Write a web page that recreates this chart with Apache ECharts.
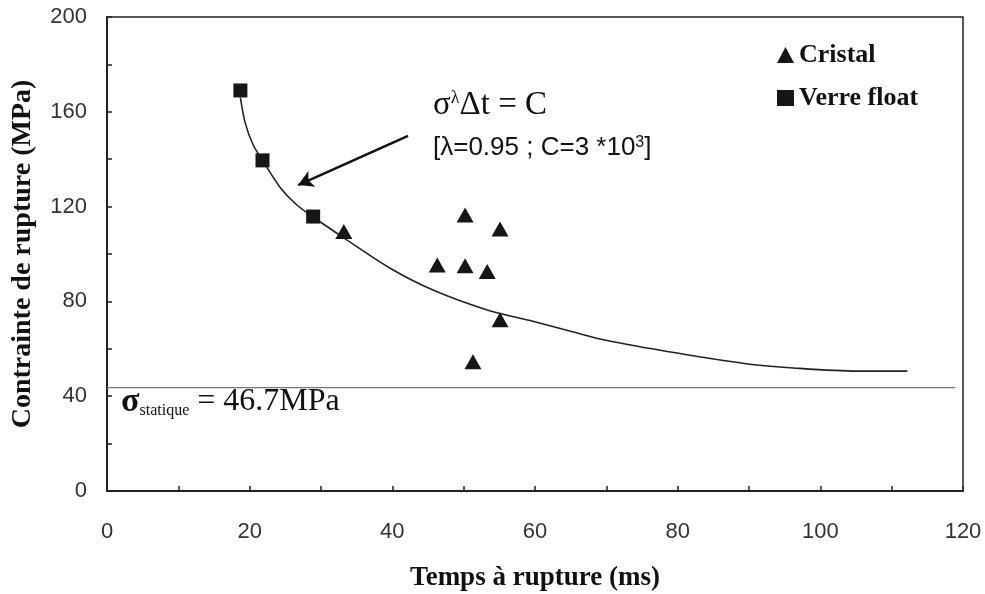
<!DOCTYPE html>
<html>
<head>
<meta charset="utf-8">
<script src="https://cdn.jsdelivr.net/npm/echarts@6/dist/echarts.min.js"></script>
<style>html,body{margin:0;padding:0;background:#fff}#c{width:985px;height:594px}</style>
</head>
<body>
<div id="c"></div>
<script>
// Data
const cristal = [[33.2,109.5],[50.2,116.5],[55.1,110.5],[46.3,95.4],[50.2,95.0],[53.3,92.6],[55.1,72.3],[51.3,54.5]];
const verreFloat = [[18.7,169],[21.8,139.5],[28.9,115.8]];
const fitCurve = [[18.7,166],[19.4,155],[20.5,146],[21.8,139.5],[24.3,128],[26.5,121],[28.9,115.6],[33.2,106.8],[39.7,94],[45.7,84.8],[53.3,76.4],[59.7,71.6],[65,67.4],[70.1,63.5],[79.9,58.2],[89.8,53.6],[96.2,51.9],[105.2,50.6],[112.2,50.6]];
const staticLevel = [[0,43.6],[118.9,43.6]];
const arrowFrom = [42.2,149.8];
const arrowTo = [26.8,129.1];
const xTicks = {min:0, max:120, interval:20};
const yTicks = {min:0, max:200, interval:40};

const serif = 'Liberation Serif';
const sans = 'Liberation Sans';
const ink = '#161616';

const chart = echarts.init(document.getElementById('c'));
chart.setOption({
  animation: false,
  backgroundColor: '#fff',
  grid: {left:107, right:22, top:17, bottom:103, show:true, borderColor:'#222', borderWidth:1.5,
         containLabel:false, outerBoundsMode:'none'},
  legend: {
    orient:'vertical', left:772, top:37, itemGap:17, itemWidth:17, itemHeight:16,
    data:['Cristal','Verre float'],
    textStyle:{fontFamily:serif, fontSize:26, fontWeight:'bold', color:'#111'}
  },
  xAxis: {
    type:'value', min:xTicks.min, max:xTicks.max, interval:xTicks.interval,
    name:'Temps à rupture (ms)', nameLocation:'middle', nameGap:74,
    nameTextStyle:{fontFamily:serif, fontSize:27, fontWeight:'bold', color:'#111'},
    axisLine:{show:true, lineStyle:{color:'#222', width:2}},
    axisTick:{show:true, inside:true, length:5, lineStyle:{color:'#222', width:1.5}},
    minorTick:{show:true, splitNumber:2, length:5, lineStyle:{color:'#222', width:1.5}},
    splitLine:{show:false},
    axisLabel:{fontFamily:sans, fontSize:22, color:'#333', margin:30}
  },
  yAxis: {
    type:'value', min:yTicks.min, max:yTicks.max, interval:yTicks.interval,
    name:'Contrainte de rupture (MPa)', nameLocation:'middle', nameGap:70,
    nameTextStyle:{fontFamily:serif, fontSize:28, fontWeight:'bold', color:'#111'},
    axisLine:{show:true, lineStyle:{color:'#222', width:2}},
    axisTick:{show:true, inside:true, length:5, lineStyle:{color:'#222', width:1.5}},
    minorTick:{show:true, splitNumber:2, length:5, lineStyle:{color:'#222', width:1.5}},
    splitLine:{show:false},
    axisLabel:{fontFamily:sans, fontSize:22, color:'#333', margin:20}
  },
  series: [
    {
      name:'static', type:'line', data:staticLevel, showSymbol:false, symbol:'none',
      lineStyle:{color:'#777', width:1.3}, silent:true, z:1
    },
    {
      name:'fit', type:'line', data:fitCurve, smooth:0.3, showSymbol:false, symbol:'none',
      lineStyle:{color:'#222', width:1.6}, z:2,
      markLine:{
        silent:true, symbol:['none','arrow'], symbolSize:[13,15],
        lineStyle:{color:'#111', width:2.5, type:'solid'}, label:{show:false},
        data:[[{coord:arrowFrom},{coord:arrowTo}]]
      }
    },
    {
      name:'Cristal', type:'scatter', symbol:'triangle', symbolSize:[17,15],
      data:cristal, itemStyle:{color:ink, opacity:1}, z:3
    },
    {
      name:'Verre float', type:'scatter', symbol:'rect', symbolSize:14,
      data:verreFloat, itemStyle:{color:ink, opacity:1}, z:3
    }
  ],
  graphic: [
    {
      type:'text', left:433, top:89,
      style:{
        text:'{a|σ}{b|λ}{a|Δt = C}',
        rich:{
          a:{fontFamily:serif, fontSize:33, fill:'#111'},
          b:{fontFamily:serif, fontSize:18, fill:'#111', verticalAlign:'top', padding:[0,0,12,0]}
        }
      }
    },
    {
      type:'text', left:433, top:135,
      style:{
        text:'{a|[λ=0.95 ; C=3 *10}{b|3}{a|]}',
        rich:{
          a:{fontFamily:sans, fontSize:26, fill:'#111'},
          b:{fontFamily:sans, fontSize:16, fill:'#111', verticalAlign:'top', padding:[0,0,9,0]}
        }
      }
    },
    {
      type:'text', left:121, top:385,
      style:{
        text:'{a|σ}{s|statique}{c| = 46.7MPa}',
        rich:{
          a:{fontFamily:serif, fontSize:34, fontWeight:'bold', fill:'#111'},
          s:{fontFamily:serif, fontSize:16, fill:'#111', verticalAlign:'bottom', padding:[14,0,0,0]},
          c:{fontFamily:serif, fontSize:32, fill:'#111'}
        }
      }
    }
  ]
});
</script>
</body>
</html>
